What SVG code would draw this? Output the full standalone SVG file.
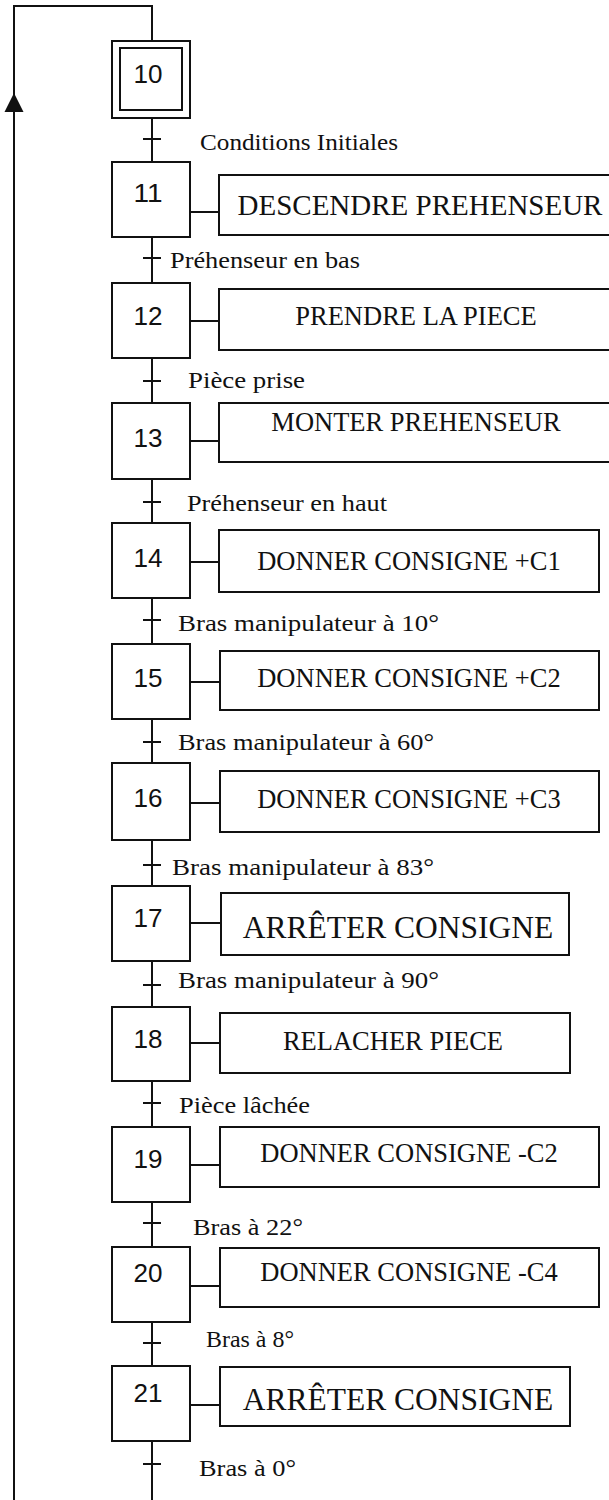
<svg xmlns="http://www.w3.org/2000/svg" width="609" height="1500" viewBox="0 0 609 1500">
<style>
.bx{fill:#fff;stroke:#111;stroke-width:2}
.ln{fill:none;stroke:#111;stroke-width:2}
.num{font-family:"Liberation Sans",Arial,sans-serif;font-size:25px;fill:#111;text-anchor:middle}
.act{font-family:"Liberation Serif","Times New Roman",serif;font-size:26.5px;fill:#111;text-anchor:middle}
.big{font-size:31.5px}
.lbl{font-family:"Liberation Serif","Times New Roman",serif;font-size:23px;fill:#111}
</style>
<rect width="609" height="1500" fill="#fff"/>
<g id="connectors" class="ln">
<path d="M152 41 V6 H14 V1500"/>
<path d="M152 118 V162 M152 237 V283 M152 358 V403 M152 479 V523 M152 598 V644 M152 719 V763 M152 840 V886 M152 961 V1007 M152 1081 V1127 M152 1202 V1247 M152 1322 V1366 M152 1441 V1500"/>
<path d="M143 139 H161 M143 258 H161 M143 381 H161 M143 502 H161 M143 620 H161 M143 742 H161 M143 865 H161 M143 985 H161 M143 1103 H161 M143 1223 H161 M143 1343 H161 M143 1464 H161"/>
<path d="M190 212 H219 M190 321 H219 M190 441 H219 M190 562 H219 M190 682 H220 M190 803 H220 M190 923 H221 M190 1043 H220 M190 1165 H220 M190 1286 H220 M190 1405 H220"/>
<polygon points="14,93 4.5,112 23.5,112" fill="#111" stroke="none"/>
</g>
<g id="step10"><rect class="bx" x="112" y="41" width="78" height="77"/><rect class="bx" x="120" y="48" width="62" height="62"/><text class="num" x="148" y="83" textLength="29" lengthAdjust="spacingAndGlyphs">10</text></g>
<g id="step11"><rect class="bx" x="112" y="162" width="78" height="75"/><text class="num" x="148" y="202" textLength="29" lengthAdjust="spacingAndGlyphs">11</text></g>
<g id="step12"><rect class="bx" x="112" y="283" width="78" height="75"/><text class="num" x="148" y="325" textLength="29" lengthAdjust="spacingAndGlyphs">12</text></g>
<g id="step13"><rect class="bx" x="112" y="403" width="78" height="76"/><text class="num" x="148" y="447" textLength="29" lengthAdjust="spacingAndGlyphs">13</text></g>
<g id="step14"><rect class="bx" x="112" y="523" width="78" height="75"/><text class="num" x="148" y="567" textLength="29" lengthAdjust="spacingAndGlyphs">14</text></g>
<g id="step15"><rect class="bx" x="112" y="644" width="78" height="75"/><text class="num" x="148" y="687" textLength="29" lengthAdjust="spacingAndGlyphs">15</text></g>
<g id="step16"><rect class="bx" x="112" y="763" width="78" height="77"/><text class="num" x="148" y="807" textLength="29" lengthAdjust="spacingAndGlyphs">16</text></g>
<g id="step17"><rect class="bx" x="112" y="886" width="78" height="75"/><text class="num" x="148" y="927" textLength="29" lengthAdjust="spacingAndGlyphs">17</text></g>
<g id="step18"><rect class="bx" x="112" y="1007" width="78" height="74"/><text class="num" x="148" y="1048" textLength="29" lengthAdjust="spacingAndGlyphs">18</text></g>
<g id="step19"><rect class="bx" x="112" y="1127" width="78" height="75"/><text class="num" x="148" y="1168" textLength="29" lengthAdjust="spacingAndGlyphs">19</text></g>
<g id="step20"><rect class="bx" x="112" y="1247" width="78" height="75"/><text class="num" x="148" y="1282" textLength="29" lengthAdjust="spacingAndGlyphs">20</text></g>
<g id="step21"><rect class="bx" x="112" y="1366" width="78" height="75"/><text class="num" x="148" y="1402" textLength="29" lengthAdjust="spacingAndGlyphs">21</text></g>
<g id="action11"><rect class="bx" x="219" y="175" width="400" height="60"/><text class="act" x="420" y="215" style="font-size:29px">DESCENDRE PREHENSEUR</text></g>
<g id="action12"><rect class="bx" x="219" y="289" width="400" height="61"/><text class="act" x="416" y="325">PRENDRE LA PIECE</text></g>
<g id="action13"><rect class="bx" x="219" y="403" width="400" height="59"/><text class="act" x="416" y="431">MONTER PREHENSEUR</text></g>
<g id="action14"><rect class="bx" x="219" y="530" width="380" height="62"/><text class="act" x="409" y="570">DONNER CONSIGNE +C1</text></g>
<g id="action15"><rect class="bx" x="220" y="651" width="379" height="59"/><text class="act" x="409" y="687">DONNER CONSIGNE +C2</text></g>
<g id="action16"><rect class="bx" x="220" y="771" width="379" height="61"/><text class="act" x="409" y="808">DONNER CONSIGNE +C3</text></g>
<g id="action17"><rect class="bx" x="221" y="893" width="348" height="62"/><text class="act big" x="398" y="938">ARRÊTER CONSIGNE</text></g>
<g id="action18"><rect class="bx" x="220" y="1013" width="350" height="60"/><text class="act" x="393" y="1050">RELACHER PIECE</text></g>
<g id="action19"><rect class="bx" x="220" y="1127" width="379" height="60"/><text class="act" x="409" y="1162">DONNER CONSIGNE -C2</text></g>
<g id="action20"><rect class="bx" x="220" y="1248" width="379" height="59"/><text class="act" x="409" y="1281">DONNER CONSIGNE -C4</text></g>
<g id="action21"><rect class="bx" x="220" y="1367" width="350" height="59"/><text class="act big" x="398" y="1410">ARRÊTER CONSIGNE</text></g>
<g id="labels">
<text class="lbl" x="200" y="150" textLength="198" lengthAdjust="spacingAndGlyphs">Conditions Initiales</text>
<text class="lbl" x="170" y="268" textLength="190" lengthAdjust="spacingAndGlyphs">Préhenseur en bas</text>
<text class="lbl" x="188" y="388" textLength="117" lengthAdjust="spacingAndGlyphs">Pièce prise</text>
<text class="lbl" x="187" y="511" textLength="200" lengthAdjust="spacingAndGlyphs">Préhenseur en haut</text>
<text class="lbl" x="178" y="631" textLength="261" lengthAdjust="spacingAndGlyphs">Bras manipulateur à 10°</text>
<text class="lbl" x="178" y="750" textLength="256" lengthAdjust="spacingAndGlyphs">Bras manipulateur à 60°</text>
<text class="lbl" x="172" y="875" textLength="262" lengthAdjust="spacingAndGlyphs">Bras manipulateur à 83°</text>
<text class="lbl" x="178" y="988" textLength="261" lengthAdjust="spacingAndGlyphs">Bras manipulateur à 90°</text>
<text class="lbl" x="179" y="1113" textLength="131" lengthAdjust="spacingAndGlyphs">Pièce lâchée</text>
<text class="lbl" x="193" y="1235" textLength="110" lengthAdjust="spacingAndGlyphs">Bras à 22°</text>
<text class="lbl" x="206" y="1347" textLength="88" lengthAdjust="spacingAndGlyphs">Bras à 8°</text>
<text class="lbl" x="199" y="1476" textLength="97" lengthAdjust="spacingAndGlyphs">Bras à 0°</text>
</g>
</svg>
